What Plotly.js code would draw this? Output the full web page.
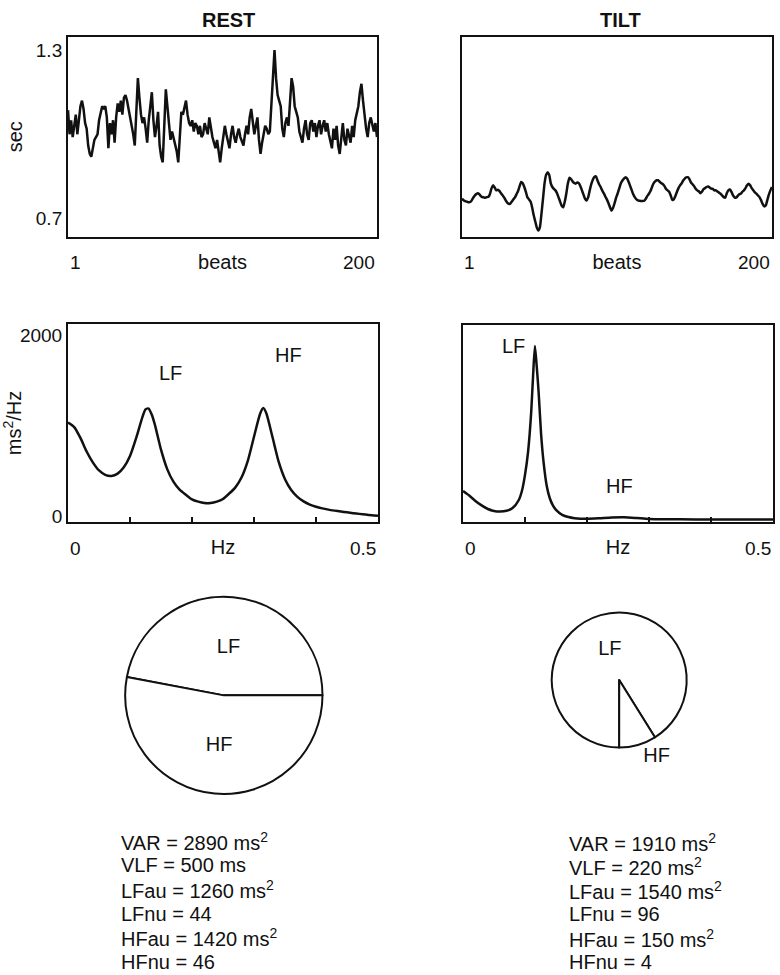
<!DOCTYPE html>
<html><head><meta charset="utf-8">
<script src="https://cdn.plot.ly/plotly-3.0.1.min.js"></script>
<style>html,body{margin:0;padding:0;background:#fff}#chart{width:780px;height:975px}</style>
</head><body><div id="chart"></div>
<script>
// ---------- DATA ----------
const restRR = [1.086,1.00,1.05,0.99,1.03,1.07,1.00,1.06,1.10,1.12,1.09,1.04,1.02,0.96,0.93,0.92,0.95,0.98,0.99,1.00,
1.05,1.08,1.10,1.09,1.10,1.06,0.95,1.04,1.00,1.05,0.97,1.06,1.11,1.08,1.12,1.07,1.13,1.14,1.12,1.09,
1.06,1.04,1.00,0.96,1.08,1.20,1.13,1.07,1.04,1.06,1.02,0.97,1.05,1.10,1.15,1.05,0.99,1.03,1.08,0.96,
0.92,0.90,1.04,1.16,1.10,1.03,0.98,1.01,0.99,0.97,0.94,0.90,0.99,1.08,1.07,1.10,1.12,1.07,1.04,1.03,
1.05,1.01,1.04,1.03,1.00,1.03,0.99,1.00,1.04,1.02,1.00,1.06,1.02,0.99,0.97,0.95,0.98,0.94,0.90,0.95,
0.99,1.03,1.00,0.98,0.95,1.00,1.03,0.99,0.97,1.00,1.02,0.99,0.97,0.96,1.00,1.03,1.00,1.06,1.09,1.04,
1.00,1.03,1.06,0.98,0.93,0.97,1.00,1.03,1.02,1.00,1.01,1.12,1.24,1.30,1.20,1.14,1.12,1.10,1.02,0.99,
1.04,1.06,1.03,1.10,1.20,1.17,1.10,1.08,1.06,1.01,0.99,0.97,1.02,1.05,1.00,0.98,1.04,1.05,1.01,1.04,
0.99,1.03,1.05,1.00,1.03,1.05,1.01,1.04,1.00,0.97,0.95,1.02,0.98,1.03,0.96,0.93,0.99,1.04,0.98,0.96,
1.02,1.00,0.97,1.03,0.99,1.05,1.08,1.10,1.15,1.18,1.12,1.06,1.02,0.99,1.04,1.06,1.03,1.01,1.04,0.99];

const tiltRR = [0.770,0.765,0.762,0.760,0.758,0.758,0.762,0.772,0.780,0.786,0.790,0.787,0.780,0.776,0.775,0.774,0.776,0.777,0.788,0.808,
0.818,0.810,0.800,0.802,0.798,0.790,0.783,0.775,0.765,0.756,0.752,0.753,0.760,0.768,0.775,0.786,0.798,0.815,0.830,0.825,
0.812,0.795,0.775,0.768,0.760,0.740,0.712,0.690,0.668,0.657,0.668,0.715,0.770,0.825,0.855,0.865,0.855,0.825,0.812,0.805,
0.800,0.790,0.775,0.760,0.745,0.740,0.760,0.790,0.825,0.845,0.840,0.832,0.826,0.824,0.828,0.826,0.815,0.800,0.785,0.770,
0.764,0.775,0.800,0.822,0.838,0.848,0.850,0.835,0.822,0.812,0.800,0.790,0.778,0.768,0.755,0.740,0.728,0.738,0.755,0.775,
0.790,0.808,0.825,0.835,0.842,0.847,0.842,0.830,0.815,0.800,0.785,0.775,0.768,0.764,0.763,0.762,0.762,0.763,0.770,0.780,
0.788,0.798,0.812,0.825,0.832,0.836,0.836,0.830,0.825,0.822,0.815,0.805,0.800,0.795,0.782,0.766,0.768,0.780,0.795,0.808,
0.818,0.825,0.835,0.842,0.846,0.847,0.840,0.828,0.822,0.815,0.806,0.800,0.797,0.790,0.795,0.804,0.808,0.812,0.814,0.810,
0.806,0.805,0.800,0.800,0.796,0.792,0.788,0.782,0.776,0.774,0.790,0.800,0.803,0.795,0.782,0.775,0.774,0.780,0.786,0.788,
0.795,0.800,0.808,0.818,0.824,0.818,0.808,0.800,0.793,0.788,0.782,0.776,0.765,0.752,0.743,0.746,0.765,0.785,0.800,0.812];

const restHz = [0,0.01,0.02,0.03,0.04,0.05,0.06,0.07,0.08,0.09,0.10,0.11,0.12,0.125,0.13,0.135,0.14,0.15,0.16,0.17,0.18,0.19,
0.20,0.21,0.22,0.23,0.24,0.25,0.26,0.27,0.28,0.29,0.30,0.31,0.315,0.32,0.33,0.34,0.35,0.36,0.37,0.38,0.39,
0.40,0.41,0.42,0.43,0.44,0.45,0.46,0.47,0.48,0.49,0.50];
const restPSD = [1040,990,870,720,600,510,462,450,475,545,670,870,1100,1185,1195,1130,1020,740,525,386,298,242,
190,165,150,150,165,195,255,323,435,617,883,1140,1200,1140,874,601,413,294,218,168,133,
109,91,77,66,56,47,38,30,22,15,10];

const tiltHz = [0,0.01,0.02,0.03,0.04,0.05,0.06,0.07,0.08,0.09,0.095,0.10,0.105,0.11,0.113,0.116,0.119,0.122,0.126,0.13,
0.135,0.14,0.145,0.15,0.16,0.17,0.18,0.20,0.22,0.24,0.26,0.28,0.30,0.35,0.40,0.45,0.50];
const tiltPSD = [320,270,210,160,120,98,92,100,130,220,320,500,760,1200,1600,1935,1700,1420,950,640,
380,240,160,110,55,30,18,12,18,26,28,20,10,5,3,2,2];

const statNames = ['VAR','VLF','LFau','LFnu','HFau','HFnu'];
const restStats = [2890,500,1260,44,1420,46];
const restUnits = ['ms<sup>2</sup>','ms','ms<sup>2</sup>','','ms<sup>2</sup>',''];
const tiltStats = [1910,220,1540,96,150,4];
const tiltUnits = ['ms<sup>2</sup>','ms<sup>2</sup>','ms<sup>2</sup>','','ms<sup>2</sup>',''];
const pieLabels = ['LF','HF'];
const restPie = [restStats[2], restStats[4]];
const tiltPie = [tiltStats[2], tiltStats[4]];

// ---------- BUILD ----------
const beats = restRR.map((_, i) => i + 1);
const INK = '#111';
const FONT = 'Liberation Sans, Arial, sans-serif';
const lineStyle = {color: INK, width: 2.5, shape: 'spline', smoothing: 0.6};
// LF slice ends at 3 o'clock and spans upward (clockwise drawing order)
const restRotation = 90 - 360 * restPie[0] / (restPie[0] + restPie[1]);

const traces = [
  {type:'scatter', mode:'lines', x:beats, y:restRR, xaxis:'x', yaxis:'y', line:{color:INK, width:2.5}, hoverinfo:'skip'},
  {type:'scatter', mode:'lines', x:beats, y:tiltRR, xaxis:'x2', yaxis:'y2', line:{color:INK, width:2.5, shape:'spline', smoothing:0.5}, hoverinfo:'skip'},
  {type:'scatter', mode:'lines', x:restHz, y:restPSD, xaxis:'x3', yaxis:'y3', line:lineStyle, hoverinfo:'skip'},
  {type:'scatter', mode:'lines', x:tiltHz, y:tiltPSD, xaxis:'x4', yaxis:'y4', line:lineStyle, hoverinfo:'skip'},
  {type:'pie', labels:pieLabels, values:restPie, sort:false, direction:'clockwise', rotation:restRotation,
   domain:{x:[0.1594,0.4145], y:[0.1856,0.3880]},
   marker:{colors:['#fff','#fff'], line:{color:INK, width:2}},
   textinfo:'label', textposition:'inside', insidetextorientation:'horizontal',
   textfont:{size:20, color:INK, family:FONT}, hoverinfo:'skip', showlegend:false},
  {type:'pie', labels:pieLabels, values:tiltPie, sort:false, direction:'clockwise', rotation:180,
   domain:{x:[0.7073,0.8804], y:[0.2325,0.3726]},
   marker:{colors:['#fff','#fff'], line:{color:INK, width:2}},
   textinfo:'label', textposition:['inside','outside'], insidetextorientation:'horizontal',
   textfont:{size:20, color:INK, family:FONT}, hoverinfo:'skip', showlegend:false}
];

const frame = {showline:true, mirror:true, linecolor:INK, linewidth:2, showgrid:false, zeroline:false, fixedrange:true};
const tickFont = {size:19, color:INK, family:FONT};
const titleFont = {size:20, color:INK, family:FONT};

const layout = {
  width:780, height:975, margin:{l:0,r:0,t:0,b:0},
  paper_bgcolor:'#fff', plot_bgcolor:'#fff', showlegend:false,
  font:{family:FONT, color:INK, size:19},
  xaxis: Object.assign({}, frame, {domain:[0.0872,0.4833], anchor:'y', range:[1,200], ticks:'', showticklabels:false,
          title:{text:'beats', font:titleFont, standoff:17}}),
  yaxis: Object.assign({}, frame, {domain:[0.757,0.9624], anchor:'x', range:[0.634,1.348], tickvals:[0.7,1.3], ticktext:['0.7','1.3'],
          ticks:'', tickfont:tickFont, title:{text:'sec', font:titleFont, standoff:8}}),
  xaxis2: Object.assign({}, frame, {domain:[0.5923,0.9897], anchor:'y2', range:[1,200], ticks:'', showticklabels:false,
          title:{text:'beats', font:titleFont, standoff:17}}),
  yaxis2: Object.assign({}, frame, {domain:[0.757,0.9624], anchor:'x2', range:[0.634,1.348], ticks:'', showticklabels:false}),
  xaxis3: Object.assign({}, frame, {domain:[0.0872,0.4846], anchor:'y3', range:[0,0.5], ticks:'inside', ticklen:5, tickwidth:2, tickcolor:INK,
          tickvals:[0.1,0.2,0.3,0.4], showticklabels:false, title:{text:'Hz', font:titleFont, standoff:17}}),
  yaxis3: Object.assign({}, frame, {domain:[0.4646,0.6677], anchor:'x3', range:[-60,2130], tickvals:[0,2000], ticktext:['0','2000'],
          ticks:'', tickfont:tickFont, title:{text:'ms<sup>2</sup>/Hz', font:titleFont, standoff:0}}),
  xaxis4: Object.assign({}, frame, {domain:[0.5936,0.9910], anchor:'y4', range:[0,0.5], ticks:'inside', ticklen:5, tickwidth:2, tickcolor:INK,
          tickvals:[0.1,0.2,0.3,0.4], showticklabels:false, title:{text:'Hz', font:titleFont, standoff:17}}),
  yaxis4: Object.assign({}, frame, {domain:[0.4646,0.6667], anchor:'x4', range:[-25,2170], ticks:'', showticklabels:false}),
  annotations: []
};

const A = layout.annotations;
const ann = (o) => A.push(Object.assign({showarrow:false, font:{size:19, color:INK, family:FONT}}, o));
// column titles
ann({text:'<b>REST</b>', xref:'paper', yref:'paper', x:228/780, y:1-20/975, xanchor:'center', yanchor:'middle', font:{size:20, color:INK, family:FONT}});
ann({text:'<b>TILT</b>', xref:'paper', yref:'paper', x:620/780, y:1-20/975, xanchor:'center', yanchor:'middle', font:{size:20, color:INK, family:FONT}});
// end labels of x axes
const yTs = 1 - 262/975, ySp = 1 - 548/975;
ann({text:String(beats[0]), xref:'x', yref:'paper', x:beats[0], y:yTs, xanchor:'left', yanchor:'middle'});
ann({text:String(beats[beats.length-1]), xref:'x', yref:'paper', x:beats[beats.length-1], y:yTs, xanchor:'right', yanchor:'middle'});
ann({text:String(beats[0]), xref:'x2', yref:'paper', x:beats[0], y:yTs, xanchor:'left', yanchor:'middle'});
ann({text:String(beats[beats.length-1]), xref:'x2', yref:'paper', x:beats[beats.length-1], y:yTs, xanchor:'right', yanchor:'middle'});
ann({text:'0', xref:'x3', yref:'paper', x:0, y:ySp, xanchor:'left', yanchor:'middle'});
ann({text:'0.5', xref:'x3', yref:'paper', x:0.5, y:ySp, xanchor:'right', yanchor:'middle'});
ann({text:'0', xref:'x4', yref:'paper', x:0, y:ySp, xanchor:'left', yanchor:'middle'});
ann({text:'0.5', xref:'x4', yref:'paper', x:0.5, y:ySp, xanchor:'right', yanchor:'middle'});
// band labels in spectra
const bandFont = {size:20, color:INK, family:FONT};
ann({text:'LF', xref:'x3', yref:'y3', x:0.165, y:1590, font:bandFont});
ann({text:'HF', xref:'x3', yref:'y3', x:0.355, y:1790, font:bandFont});
ann({text:'LF', xref:'x4', yref:'y4', x:0.081, y:1935, font:bandFont});
ann({text:'HF', xref:'x4', yref:'y4', x:0.253, y:375, font:bandFont});
// stats text
const statFont = {size:20, color:INK, family:FONT};
statNames.forEach((n, i) => {
  ann({text:n + ' = ' + restStats[i] + (restUnits[i] ? ' ' + restUnits[i] : ''), xref:'paper', yref:'paper',
       x:119/780, y:1 - (841 + i*24.2)/975, xanchor:'left', yanchor:'middle', font:statFont});
  ann({text:n + ' = ' + tiltStats[i] + (tiltUnits[i] ? ' ' + tiltUnits[i] : ''), xref:'paper', yref:'paper',
       x:567/780, y:1 - (842 + i*24.0)/975, xanchor:'left', yanchor:'middle', font:statFont});
});

Plotly.newPlot('chart', traces, layout, {displayModeBar:false, staticPlot:true});
</script>
</body></html>
